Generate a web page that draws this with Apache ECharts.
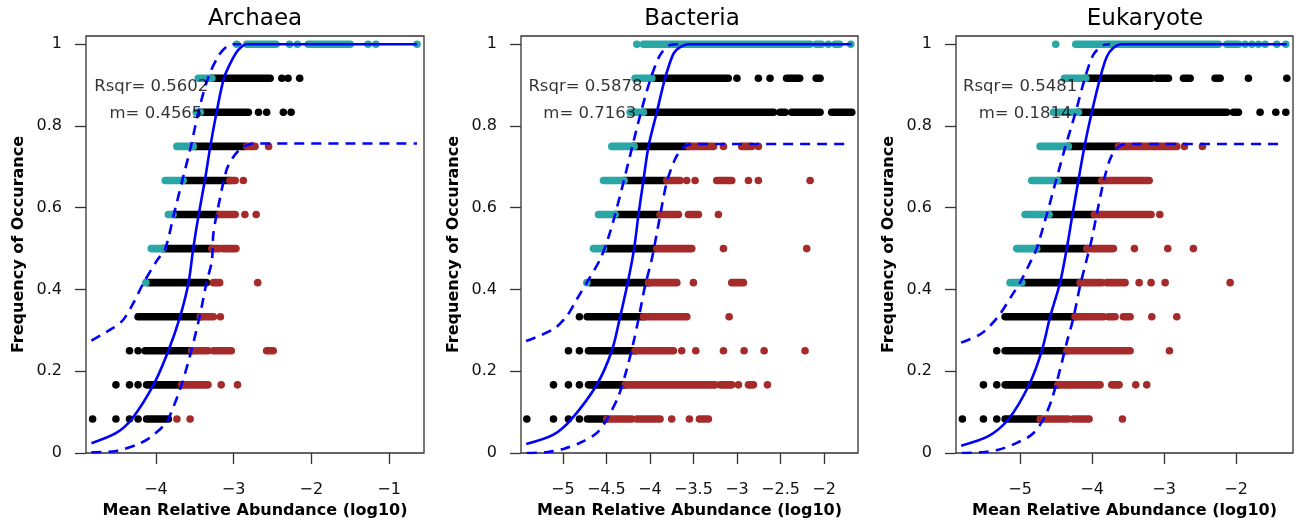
<!DOCTYPE html>
<html>
<head>
<meta charset="utf-8">
<script src="https://cdn.jsdelivr.net/npm/echarts@6/dist/echarts.min.js"></script>
<style>
  html, body { margin: 0; padding: 0; background: #fff; }
  #chart { width: 1304px; height: 526px; }
</style>
</head>
<body>
<div id="chart"></div>
<script>
// occupancy rows are level/12; each run is [level, fromX, toX] (toX left out for a lone dot)
const archaeaAbove = [
  [12, -2.96], [12, -2.83, -2.455], [12, -2.28], [12, -2.18], [12, -2.04, -1.50], [12, -1.27], [12, -1.17], [12, -0.64],
  [11, -3.455, -3.28], [10, -3.48, -3.43], [9, -3.73, -3.52], [8, -3.88, -3.65], [7, -3.84, -3.78], [6, -4.06, -3.91], [5, -4.13]
];
const archaeaWithin = [
  [11, -3.28, -2.53], [11, -2.38], [11, -2.30], [11, -2.15],
  [10, -3.43, -2.81], [10, -2.68], [10, -2.575], [10, -2.36], [10, -2.26],
  [9, -3.52, -2.85], [8, -3.65, -3.05], [7, -3.78, -3.20], [6, -3.91, -3.28], [5, -4.10, -3.35], [4, -4.23, -3.43],
  [3, -4.34], [3, -4.23], [3, -4.14, -3.54],
  [2, -4.515], [2, -4.34], [2, -4.23], [2, -4.12, -3.67],
  [1, -4.815], [1, -4.515], [1, -4.34], [1, -4.23], [1, -4.12, -3.84]
];
const archaeaBelow = [
  [9, -2.83, -2.725], [9, -2.55],
  [8, -3.05, -2.98], [8, -2.875],
  [7, -3.18, -2.98], [7, -2.855], [7, -2.71],
  [6, -3.28, -3.18], [6, -3.14, -2.97],
  [5, -3.26, -3.18], [5, -2.69],
  [4, -3.43, -3.26], [4, -3.17],
  [3, -3.54, -3.33], [3, -3.26, -3.03], [3, -2.575, -2.49],
  [2, -3.67, -3.33], [2, -3.16], [2, -2.95],
  [1, -3.73], [1, -3.56]
];
const archaeaFit = [[-4.83, 0.024], [-4.51, 0.049], [-4.31, 0.083], [-4.03, 0.167], [-3.84, 0.25], [-3.69, 0.333], [-3.58, 0.417],
  [-3.52, 0.5], [-3.45, 0.583], [-3.37, 0.667], [-3.30, 0.75], [-3.22, 0.833], [-3.125, 0.917], [-3.03, 0.958], [-2.94, 0.986],
  [-2.83, 1.0], [-0.64, 1.0]];
const archaeaLower = [[-4.83, 0.002], [-4.51, 0.005], [-4.25, 0.02], [-4.08, 0.037], [-3.91, 0.065], [-3.84, 0.083], [-3.67, 0.167],
  [-3.54, 0.254], [-3.43, 0.34], [-3.35, 0.416], [-3.28, 0.47], [-3.26, 0.538], [-3.18, 0.619], [-3.09, 0.693], [-3.00, 0.725],
  [-2.90, 0.746], [-2.81, 0.754], [-2.75, 0.757], [-0.64, 0.757]];
const archaeaUpper = [[-4.83, 0.275], [-4.55, 0.306], [-4.42, 0.326], [-4.29, 0.367], [-4.16, 0.416], [-3.99, 0.47], [-3.88, 0.5],
  [-3.77, 0.583], [-3.66, 0.667], [-3.55, 0.75], [-3.455, 0.833], [-3.33, 0.917], [-3.20, 0.97], [-3.09, 0.994], [-3.0, 1.0], [-2.9, 1.0]];

const bacteriaAbove = [
  [12, -4.15], [12, -4.074, -2.16], [12, -2.09, -2.03], [12, -1.95], [12, -1.873, -1.824], [12, -1.693],
  [11, -4.17, -3.978], [10, -4.227, -4.074], [9, -4.437, -4.181], [8, -4.533, -4.296], [7, -4.59, -4.399], [6, -4.648, -4.533], [5, -4.724]
];
const bacteriaWithin = [
  [11, -3.978, -3.10], [11, -3.00], [11, -2.754], [11, -2.62], [11, -2.43, -2.28], [11, -2.09, -2.046],
  [10, -4.074, -2.58], [10, -2.505, -2.447], [10, -2.371, -2.046], [10, -1.912, -1.682],
  [9, -4.181, -3.557], [8, -4.296, -3.806], [7, -4.399, -3.883], [6, -4.533, -3.94], [5, -4.686, -4.016],
  [4, -4.809], [4, -4.72, -4.074],
  [3, -4.935], [3, -4.809], [3, -4.705, -4.17],
  [2, -5.107], [2, -4.935], [2, -4.809], [2, -4.705, -4.284],
  [1, -5.413], [1, -5.107], [1, -4.935], [1, -4.809], [1, -4.717, -4.495]
];
const bacteriaBelow = [
  [9, -3.557, -3.27], [9, -3.155], [9, -2.945, -2.83], [9, -2.754],
  [8, -3.806, -3.653], [8, -3.577], [8, -3.481], [8, -3.232, -3.06], [8, -2.868], [8, -2.754], [8, -2.16],
  [7, -3.883, -3.672], [7, -3.557, -3.442], [7, -3.213],
  [6, -3.92, -3.519], [6, -3.155], [6, -2.199],
  [5, -4.016, -3.691], [5, -3.5], [5, -3.06, -2.926],
  [4, -4.074, -3.576], [4, -3.09],
  [3, -4.17, -3.73], [3, -3.634], [3, -3.473], [3, -3.155], [3, -2.918], [3, -2.688], [3, -2.218],
  [2, -4.284, -3.251], [2, -3.194, -3.06], [2, -2.983], [2, -2.868, -2.811], [2, -2.65],
  [1, -4.495, -4.208], [1, -4.15, -3.883], [1, -3.749], [1, -3.546], [1, -3.431, -3.328]
];
const bacteriaFit = [[-5.42, 0.022], [-5.107, 0.045], [-4.9, 0.083], [-4.61, 0.167], [-4.437, 0.25], [-4.342, 0.333], [-4.254, 0.417],
  [-4.181, 0.5], [-4.131, 0.583], [-4.074, 0.667], [-4.016, 0.75], [-3.921, 0.833], [-3.825, 0.917], [-3.729, 0.977], [-3.653, 0.993],
  [-3.557, 1.0], [-1.682, 1.0]];
const bacteriaLower = [[-5.413, 0.0], [-5.184, 0.002], [-4.992, 0.01], [-4.801, 0.025], [-4.61, 0.049], [-4.495, 0.082], [-4.361, 0.139],
  [-4.265, 0.205], [-4.189, 0.27], [-4.131, 0.327], [-4.055, 0.409], [-3.978, 0.474], [-3.883, 0.58], [-3.806, 0.662], [-3.71, 0.719],
  [-3.615, 0.748], [-3.5, 0.756], [-1.759, 0.756]];
const bacteriaUpper = [[-5.421, 0.274], [-5.107, 0.303], [-4.954, 0.335], [-4.839, 0.376], [-4.724, 0.417], [-4.571, 0.474], [-4.457, 0.54],
  [-4.342, 0.63], [-4.227, 0.728], [-4.112, 0.826], [-3.997, 0.912], [-3.883, 0.973], [-3.768, 0.998], [-3.653, 1.0]];

const eukaryoteAbove = [
  [12, -4.505], [12, -4.227, -2.245], [12, -2.13, -1.968], [12, -1.875], [12, -1.782], [12, -1.69], [12, -1.597], [12, -1.435], [12, -1.31],
  [11, -4.384, -4.088], [10, -4.537, -4.19], [9, -4.722, -4.329], [8, -4.838, -4.477], [7, -4.931, -4.597], [6, -5.046, -4.769], [5, -5.139, -4.977]
];
const eukaryoteWithin = [
  [11, -4.088, -3.171], [11, -3.102, -2.94], [11, -2.731, -2.639], [11, -2.292, -2.222], [11, -1.829], [11, -1.296],
  [10, -4.19, -2.13], [10, -2.037, -1.968], [10, -1.667], [10, -1.449], [10, -1.31],
  [9, -4.329, -3.634], [8, -4.477, -3.866], [7, -4.597, -3.968], [6, -4.769, -4.074], [5, -4.977, -4.167], [4, -5.208, -4.236],
  [3, -5.324], [3, -5.208, -4.352],
  [2, -5.509], [2, -5.324], [2, -5.208, -4.477],
  [1, -5.801], [1, -5.509], [1, -5.324], [1, -5.208, -4.722]
];
const eukaryoteBelow = [
  [9, -3.634, -2.824], [9, -2.718], [9, -2.468],
  [8, -3.866, -3.208],
  [7, -3.968, -3.181], [7, -3.06],
  [6, -4.074, -3.704], [6, -3.412], [6, -2.949], [6, -2.593],
  [5, -4.167, -3.866], [5, -3.796, -3.542], [5, -3.347], [5, -3.181], [5, -2.986], [5, -2.083],
  [4, -4.236, -3.843], [4, -3.773, -3.681], [4, -3.565, -3.472], [4, -3.171], [4, -2.824],
  [3, -4.352, -3.472], [3, -2.926],
  [2, -4.477, -3.889], [2, -3.727, -3.625], [2, -3.394], [2, -3.241],
  [1, -4.722, -4.329], [1, -4.259, -4.042], [1, -3.579]
];
const eukaryoteFit = [[-5.819, 0.018], [-5.44, 0.041], [-5.16, 0.083], [-4.875, 0.167], [-4.699, 0.25], [-4.583, 0.333], [-4.444, 0.417],
  [-4.352, 0.5], [-4.273, 0.583], [-4.19, 0.667], [-4.106, 0.75], [-4.005, 0.833], [-3.889, 0.917], [-3.796, 0.969], [-3.704, 0.991],
  [-3.588, 1.0], [-1.296, 1.0]];
const eukaryoteLower = [[-5.81, 0.0], [-5.532, 0.002], [-5.301, 0.008], [-5.069, 0.023], [-4.838, 0.045], [-4.676, 0.082], [-4.56, 0.131],
  [-4.444, 0.205], [-4.352, 0.27], [-4.259, 0.331], [-4.167, 0.409], [-4.074, 0.474], [-4.005, 0.523], [-3.912, 0.605], [-3.819, 0.679],
  [-3.727, 0.728], [-3.611, 0.752], [-3.495, 0.756], [-1.343, 0.756]];
const eukaryoteUpper = [[-5.819, 0.27], [-5.556, 0.29], [-5.417, 0.311], [-5.278, 0.34], [-5.116, 0.385], [-5.0, 0.417], [-4.838, 0.474],
  [-4.77, 0.5], [-4.63, 0.583], [-4.50, 0.667], [-4.37, 0.75], [-4.23, 0.833], [-4.10, 0.917], [-3.98, 0.975], [-3.85, 0.997], [-3.75, 1.0]];

const titles = ['Archaea', 'Bacteria', 'Eukaryote'];
const rsqrValues = ['0.5602', '0.5878', '0.5481'];
const mValues = ['0.4565', '0.7163', '0.1814'];
const archaeaTicks = [-4, -3, -2, -1];
const bacteriaTicks = [-5, -4.5, -4, -3.5, -3, -2.5, -2];
const eukaryoteTicks = [-5, -4, -3, -2];
const yTicks = [0, 0.2, 0.4, 0.6, 0.8, 1];

const TEAL = '#29A6A6', BROWN = '#A52A2A', BLUE = '#0000FF';
const FONT = 'DejaVu Sans';
const DOT_R = 3.8;

const panels = [
  { grid: { left: 86, top: 36, width: 338, height: 417 }, range: [-4.9, -0.55], ticks: archaeaTicks, titleX: 255,
    above: archaeaAbove, within: archaeaWithin, below: archaeaBelow, fit: archaeaFit, lower: archaeaLower, upper: archaeaUpper,
    statAt: [[-4.06, 0.897], [-4.0, 0.831]] },
  { grid: { left: 521, top: 36, width: 337, height: 417 }, range: [-5.48, -1.61], ticks: bacteriaTicks, titleX: 692,
    above: bacteriaAbove, within: bacteriaWithin, below: bacteriaBelow, fit: bacteriaFit, lower: bacteriaLower, upper: bacteriaUpper,
    statAt: [[-4.74, 0.897], [-4.69, 0.831]] },
  { grid: { left: 956, top: 36, width: 337, height: 417 }, range: [-5.89, -1.21], ticks: eukaryoteTicks, titleX: 1145,
    above: eukaryoteAbove, within: eukaryoteWithin, below: eukaryoteBelow, fit: eukaryoteFit, lower: eukaryoteLower, upper: eukaryoteUpper,
    statAt: [[-5.0, 0.897], [-4.93, 0.831]] }
];

function fmt(v) {
  return String(v).replace('-', '\u2212');
}

function runs(list) {
  return list.map(r => r.length === 2 ? [r[0], r[1], r[1]] : r);
}

function runItem(color) {
  return function (params, api) {
    const y = api.value(0) / 12;
    const p0 = api.coord([api.value(1), y]);
    const p1 = api.coord([api.value(2), y]);
    if (p1[0] - p0[0] < 0.5) {
      return { type: 'circle', shape: { cx: p0[0], cy: p0[1], r: DOT_R }, style: { fill: color } };
    }
    return {
      type: 'line',
      shape: { x1: p0[0], y1: p0[1], x2: p1[0], y2: p1[1] },
      style: { stroke: color, lineWidth: DOT_R * 2, lineCap: 'round' }
    };
  };
}

const grids = [], xAxes = [], yAxes = [], series = [], graphics = [];

panels.forEach((p, i) => {
  grids.push(Object.assign({ show: true, borderColor: '#333', borderWidth: 1.3, backgroundColor: 'transparent',
    containLabel: false, outerBoundsMode: 'none' }, p.grid));

  xAxes.push({
    gridIndex: i, type: 'value', min: p.range[0], max: p.range[1],
    axisLine: { show: false }, splitLine: { show: false },
    axisTick: { show: true, length: 11, customValues: p.ticks, lineStyle: { color: '#333', width: 1.3 } },
    axisLabel: { customValues: p.ticks, formatter: fmt, margin: 29, fontFamily: FONT, fontSize: 16, color: '#111' },
    name: 'Mean Relative Abundance (log10)', nameLocation: 'middle', nameGap: 50,
    nameTextStyle: { fontFamily: FONT, fontSize: 16, fontWeight: 'bold', color: '#000' }
  });

  yAxes.push({
    gridIndex: i, type: 'value', min: 0, max: 1.02,
    axisLine: { show: false }, splitLine: { show: false },
    axisTick: { show: true, length: 11, customValues: yTicks, lineStyle: { color: '#333', width: 1.3 } },
    axisLabel: { customValues: yTicks, formatter: v => String(v), margin: 24, fontFamily: FONT, fontSize: 16, color: '#111' },
    name: 'Frequency of Occurance', nameLocation: 'middle', nameGap: 59, nameRotate: 90,
    nameTextStyle: { fontFamily: FONT, fontSize: 16, fontWeight: 'bold', color: '#000' }
  });

  [[p.within, '#000000'], [p.above, TEAL], [p.below, BROWN]].forEach(([list, color]) => {
    series.push({
      type: 'custom', xAxisIndex: i, yAxisIndex: i, data: runs(list),
      encode: { x: [1, 2], y: 0 }, renderItem: runItem(color), clip: false, silent: true, z: 2
    });
  });

  series.push({
    type: 'line', xAxisIndex: i, yAxisIndex: i, data: p.fit, showSymbol: false, smooth: 0.3,
    lineStyle: { color: BLUE, width: 2.6 }, silent: true, z: 3
  });
  [p.lower, p.upper].forEach(list => {
    series.push({
      type: 'line', xAxisIndex: i, yAxisIndex: i, data: list, showSymbol: false, smooth: 0.3,
      lineStyle: { color: BLUE, width: 2.6, type: [10, 7] }, silent: true, z: 3
    });
  });

  series.push({
    type: 'scatter', xAxisIndex: i, yAxisIndex: i, symbolSize: 0, silent: true, z: 4,
    data: [
      { value: p.statAt[0], label: { formatter: 'Rsqr= ' + rsqrValues[i] } },
      { value: p.statAt[1], label: { formatter: 'm= ' + mValues[i] } }
    ],
    label: { show: true, position: 'inside', fontFamily: FONT, fontSize: 16.5, color: '#000' }
  });

  graphics.push({
    type: 'text', x: p.titleX, y: 19.5, silent: true,
    style: { text: titles[i], fontFamily: FONT, fontSize: 23, fill: '#000', align: 'center', verticalAlign: 'middle' }
  });
});

const chart = echarts.init(document.getElementById('chart'), null, { renderer: 'canvas' });
chart.setOption({
  animation: false,
  backgroundColor: '#ffffff',
  grid: grids,
  xAxis: xAxes,
  yAxis: yAxes,
  series: series,
  graphic: graphics
});
</script>
</body>
</html>
